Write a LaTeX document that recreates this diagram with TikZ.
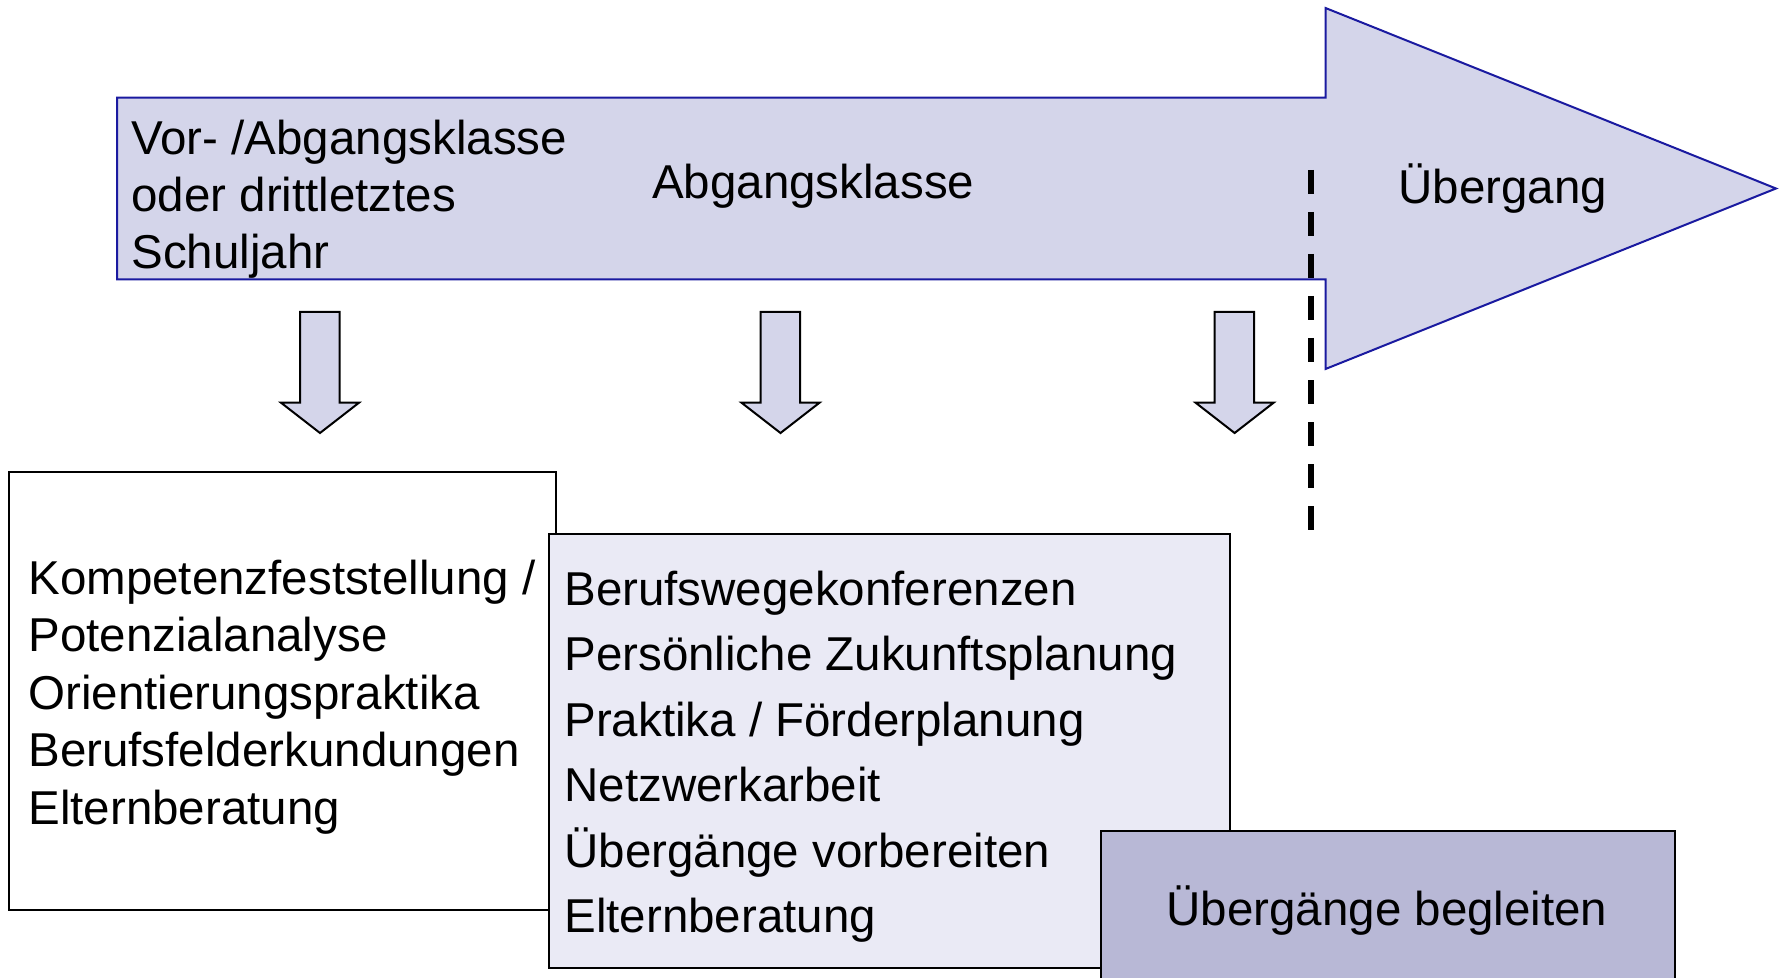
\documentclass[tikz,border=0pt]{standalone}
\usepackage{fontspec}
\setmainfont{Liberation Sans}
\definecolor{arrowfill}{HTML}{D4D5EA}
\definecolor{arrowline}{HTML}{1A1AA0}
\definecolor{midfill}{HTML}{EAEAF5}
\definecolor{rightfill}{HTML}{B8B8D6}
\newcommand\stk[2]{\vtop{\baselineskip=#1\lineskiplimit=-100pt\relax #2}}
\begin{document}
\begin{tikzpicture}[x=0.5pt,y=-0.5pt,
  txt/.style={anchor=base west, inner sep=0pt, font=\fontsize{23.75}{28}\selectfont},
  box/.style={draw=black, line width=1pt, anchor=north west, inner sep=0pt},
  downarrow/.style={draw=black, line width=1pt, fill=arrowfill, line join=miter},
  bigarrow/.style={draw=arrowline, line width=1pt, fill=arrowfill, line join=miter},
  divider/.style={line width=3pt, dash pattern=on 12pt off 9pt}]
\useasboundingbox (0,0) rectangle (1781,978);
\clip (0,0) rectangle (1781,978);
\fill[white] (0,0) rectangle (1781,978);

% big timeline arrow
\draw[bigarrow] (117,97.7) -- (1325.5,97.7) -- (1325.5,8) -- (1776,188.5)
  -- (1325.5,369) -- (1325.5,279.4) -- (117,279.4) -- cycle;

\node[txt] (vor) at (131,155) {\stk{28.5pt}{\hbox{Vor- /Abgangsklasse}\hbox{oder drittletztes}\hbox{Schuljahr}}};
\node[txt] (abg) at (651.7,198.5) {Abgangsklasse};
\node[txt] (ueb) at (1398,204) {Übergang};

% dashed divider
\coordinate (dtop) at (1311,170);
\coordinate (dbot) at (1311,531);
\draw[divider] (dtop) -- (dbot);

% small down arrows
\foreach \cx in {320,780.5,1234.6}{
  \draw[downarrow] (\cx-20,312) -- (\cx+19.5,312) -- (\cx+19.5,402.7) -- (\cx+39,402.7)
    -- (\cx,433) -- (\cx-39,402.7) -- (\cx-20,402.7) -- cycle;
}

% boxes
\node[box, fill=white, minimum width=273.5pt, minimum height=219pt] (left) at (8,471) {};
\node[txt] (lefttxt) at (28,594) {\stk{28.8pt}{\hbox{Kompetenzfeststellung /}\hbox{Potenzialanalyse}\hbox{Orientierungspraktika}\hbox{Berufsfelderkundungen}\hbox{Elternberatung}}};

\node[box, fill=midfill, minimum width=340.75pt, minimum height=216.95pt] (mid) at (547.5,532.7) {};
\node[txt] (midtxt) at (564,605) {\stk{32.75pt}{\hbox{Berufswegekonferenzen}\hbox{Persönliche Zukunftsplanung}\hbox{Praktika / Förderplanung}\hbox{Netzwerkarbeit}\hbox{Übergänge vorbereiten}\hbox{Elternberatung}}};

\node[box, fill=rightfill, minimum width=287.25pt, minimum height=90pt] (right) at (1099.5,830) {};
\node[txt, anchor=base] (righttxt) at (1387,925) {Übergänge begleiten};
\end{tikzpicture}
\end{document}
